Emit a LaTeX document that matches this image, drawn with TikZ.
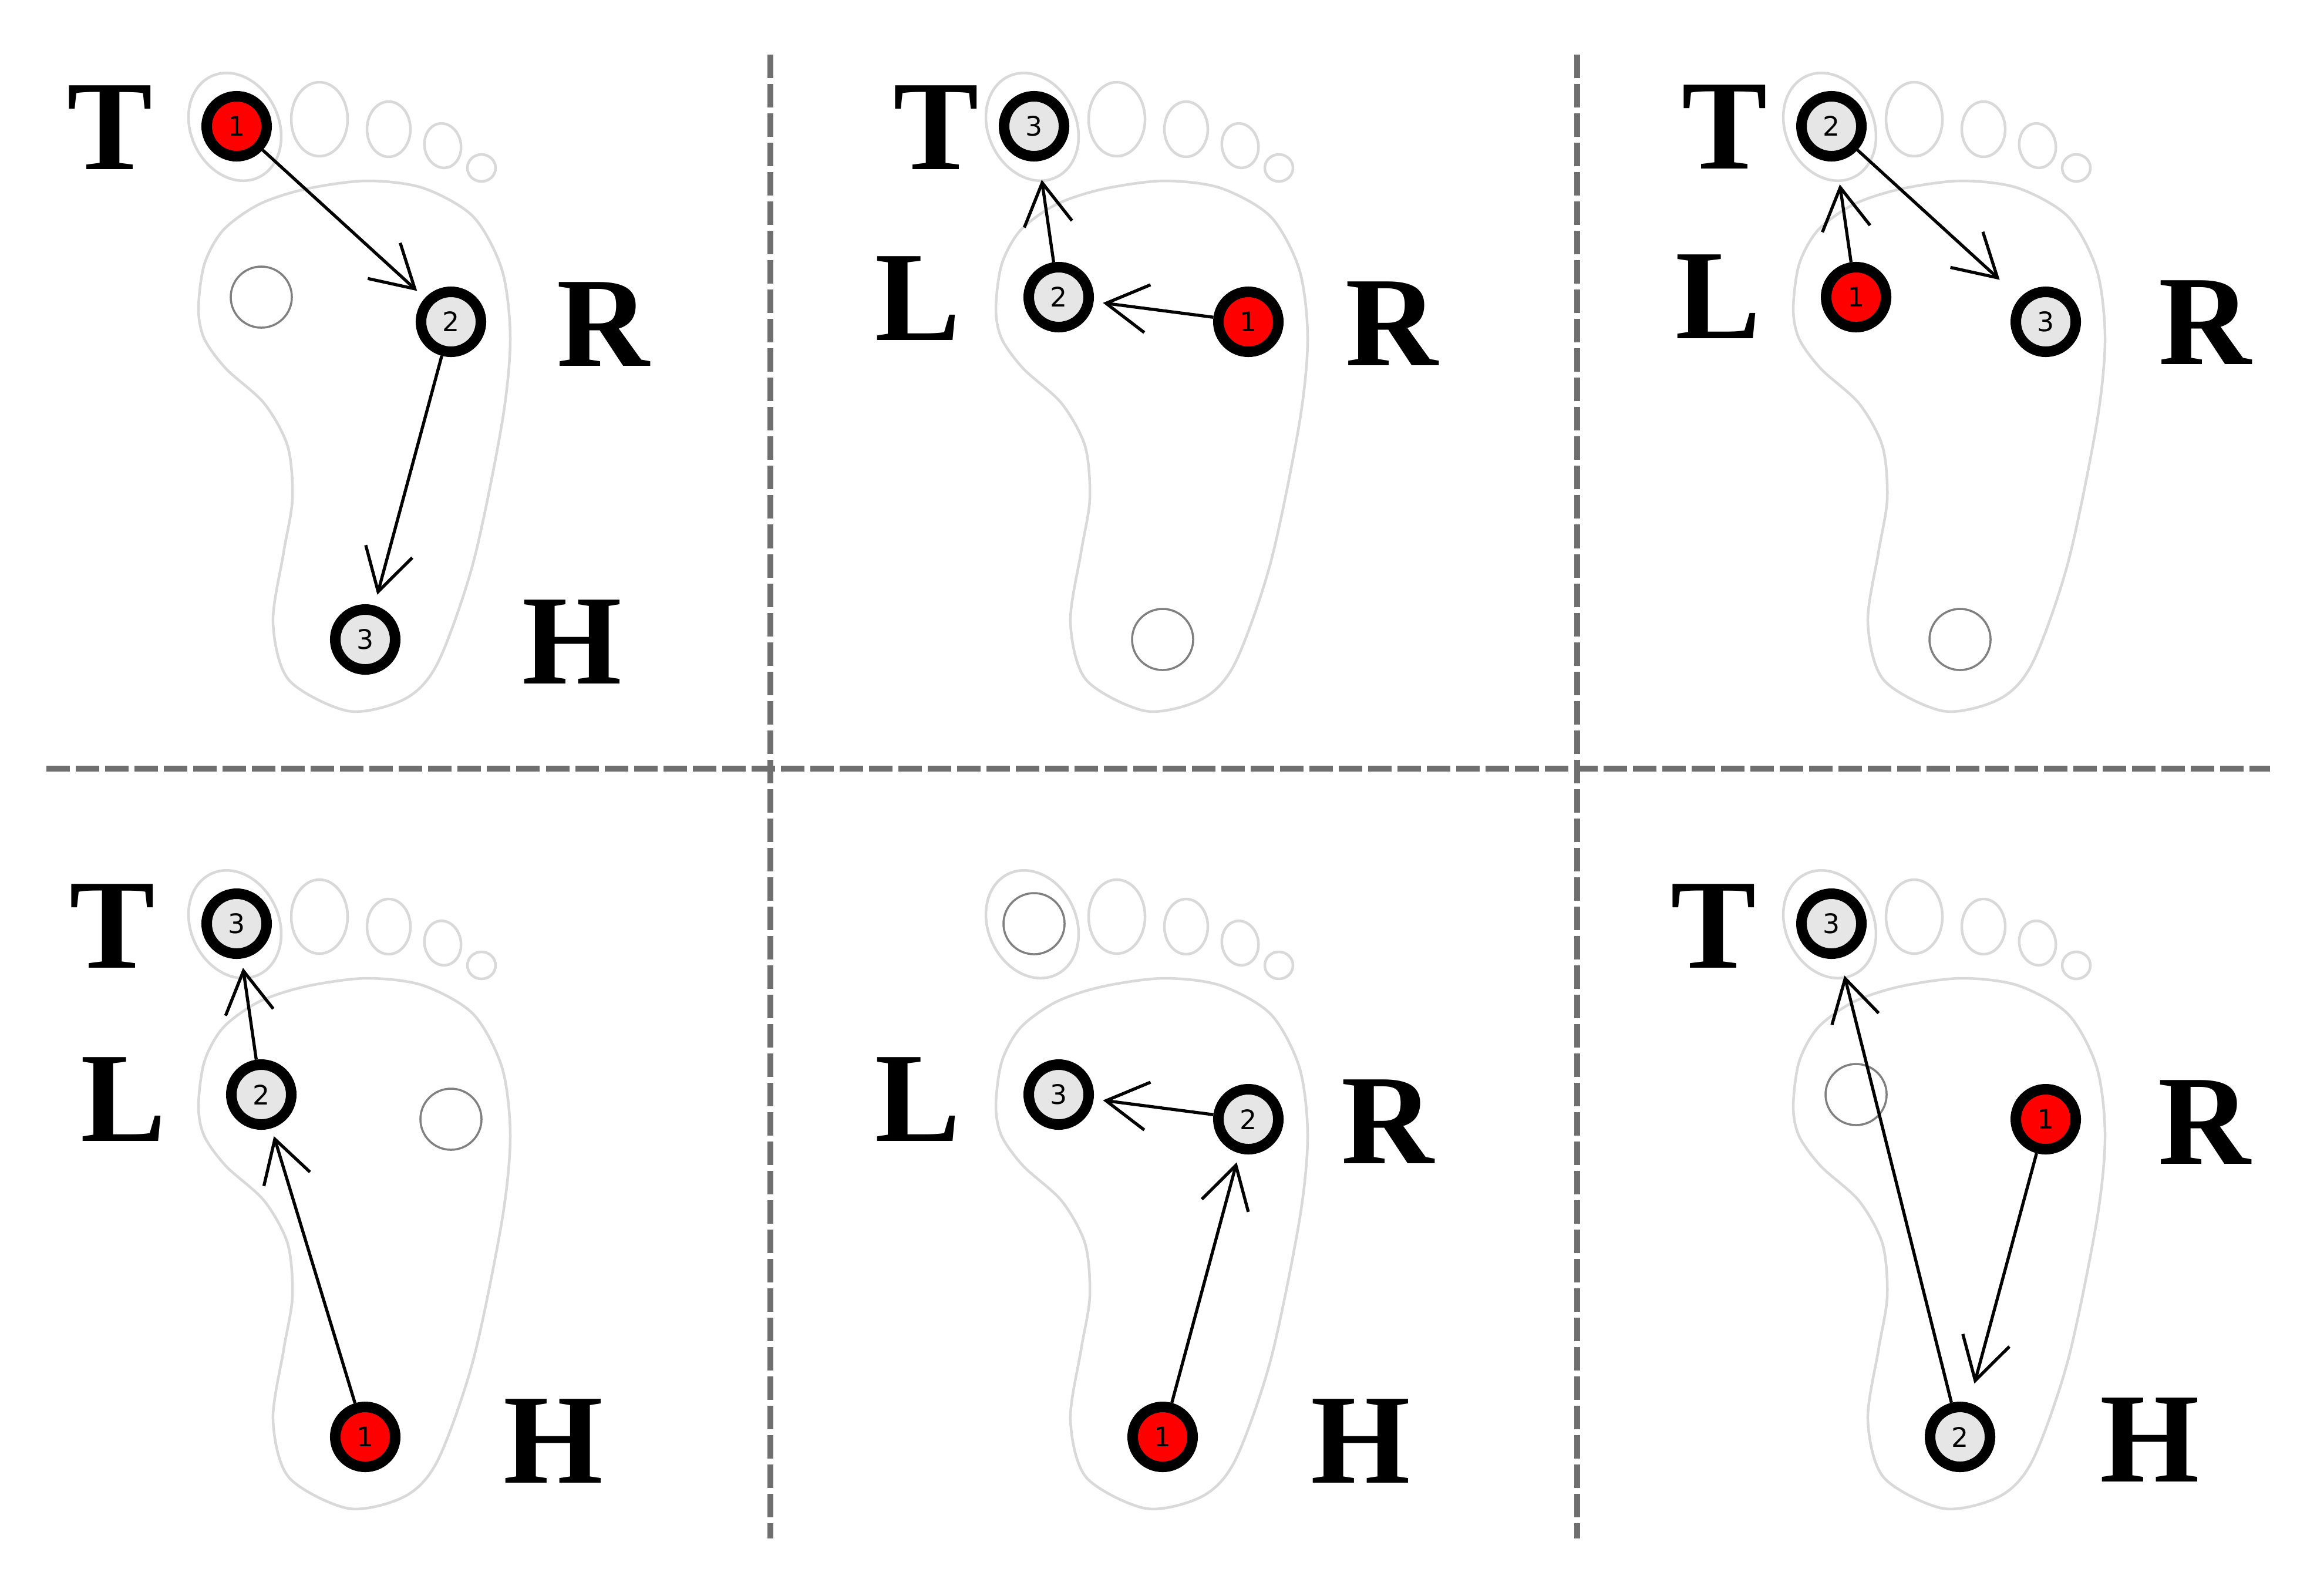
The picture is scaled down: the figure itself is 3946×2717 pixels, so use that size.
\documentclass[tikz,border=0pt]{standalone}
\usepackage{fontspec}
\setmainfont{Liberation Serif}
\newfontfamily\numfont{DejaVu Sans}
\usetikzlibrary{arrows.meta}
\definecolor{spotgray}{HTML}{E6E6E6}
\definecolor{footgray}{HTML}{D9D9D9}
\definecolor{emptygray}{HTML}{808080}
\definecolor{dashgray}{HTML}{6F6F6F}
\begin{document}
\begin{tikzpicture}[x=0.01cm,y=-0.01cm,
  footline/.style={draw=footgray,line width=0.045cm},
  foot/.pic={
    \draw[footline] (400,216) circle [x radius=75,y radius=95,rotate=25];
    \draw[footline] (544,203) circle [x radius=48,y radius=63];
    \draw[footline] (662,220) circle [x radius=37,y radius=47];
    \draw[footline] (754,248) circle [x radius=31,y radius=38,rotate=10];
    \draw[footline] (820,286) circle [x radius=24,y radius=23];
    \draw[footline] plot[smooth cycle] coordinates {(623,308) (520,322) (441,348) (380,392) (348,450) (338,526) (348,577) (385,628) (450,687) (490,760) (498,850) (483,941) (465,1060) (492,1158) (594,1211) (690,1190) (746,1128) (806,958) (855,720) (869,577) (855,460) (806,369) (720,320)};
  },
  spot/.style={circle,draw=black,line width=0.18cm,minimum size=1.02cm,inner sep=0pt,fill=spotgray,font=\numfont\fontsize{13}{13}\selectfont},
  startspot/.style={spot,fill=red},
  emptyspot/.style={circle,draw=emptygray,line width=0.035cm,minimum size=1.04cm,inner sep=0pt},
  letter/.style={anchor=base,inner sep=0pt,font=\bfseries\fontsize{62}{62}\selectfont},
  movearrow/.style={-{Straight Barb[length=0.71cm,width=0.82cm]},line width=1.5pt},
  divider/.style={draw=dashgray,line width=0.1cm,dash pattern=on 0.4cm off 0.1cm}]
\useasboundingbox (0,0) rectangle (3946,2717);
% dividers
\draw[divider] (79,1309) -- (3866,1309);
\draw[divider] (1312,93) -- (1312,2620);
\draw[divider] (2686,93) -- (2686,2620);
% feet
\pic at (0,0) {foot};
\pic at (1358,0) {foot};
\pic at (2716,0) {foot};
\pic at (0,1358) {foot};
\pic at (1358,1358) {foot};
\pic at (2716,1358) {foot};
% panel 1
\node[startspot] (p1T) at (403,215) {1};
\node[emptyspot] (p1L) at (445,506) {};
\node[spot] (p1R) at (768,548) {2};
\node[spot] (p1H) at (622,1089) {3};
\node[letter] (p1t) at (187,288) {T};
\node[letter] (p1r) at (1027,623) {R};
\node[letter] (p1h) at (974,1164) {H};
\draw[movearrow,shorten >=0.18cm] (p1T) -- (p1R);
\draw[movearrow,shorten >=0.19cm] (p1R) -- (p1H);
% panel 2
\node[spot] (p2T) at (1761,215) {3};
\node[spot] (p2L) at (1803,506) {2};
\node[startspot] (p2R) at (2126,548) {1};
\node[emptyspot] (p2H) at (1980,1089) {};
\node[letter] (p2t) at (1594,288) {T};
\node[letter] (p2l) at (1563,579) {L};
\node[letter] (p2r) at (2370,622) {R};
\draw[movearrow,shorten >=0.16cm] (p2R) -- (p2L);
\draw[movearrow,shorten >=0.32cm] (p2L) -- (p2T);
% panel 3
\node[spot] (p3T) at (3119,215) {2};
\node[startspot] (p3L) at (3161,506) {1};
\node[spot] (p3R) at (3484,548) {3};
\node[emptyspot] (p3H) at (3338,1089) {};
\node[letter] (p3t) at (2937,287) {T};
\node[letter] (p3l) at (2926,576) {L};
\node[letter] (p3r) at (3755,620) {R};
\draw[movearrow,shorten >=0.40cm] (p3L) -- (p3T);
\draw[movearrow,shorten >=0.46cm] (p3T) -- (p3R);
% panel 4
\node[spot] (p4T) at (403,1573) {3};
\node[spot] (p4L) at (445,1864) {2};
\node[emptyspot] (p4R) at (768,1906) {};
\node[startspot] (p4H) at (622,2447) {1};
\node[letter] (p4t) at (191,1648) {T};
\node[letter] (p4l) at (210,1943) {L};
\node[letter] (p4h) at (942,2525) {H};
\draw[movearrow,shorten >=0.14cm] (p4H) -- (p4L);
\draw[movearrow,shorten >=0.16cm] (p4L) -- (p4T);
% panel 5
\node[emptyspot] (p5T) at (1761,1573) {};
\node[spot] (p5L) at (1803,1864) {3};
\node[spot] (p5R) at (2126,1906) {2};
\node[startspot] (p5H) at (1980,2447) {1};
\node[letter] (p5l) at (1563,1943) {L};
\node[letter] (p5r) at (2363,1981) {R};
\node[letter] (p5h) at (2317,2525) {H};
\draw[movearrow,shorten >=0.16cm] (p5H) -- (p5R);
\draw[movearrow,shorten >=0.16cm] (p5R) -- (p5L);
% panel 6
\node[spot] (p6T) at (3119,1573) {3};
\node[emptyspot] (p6L) at (3161,1864) {};
\node[startspot] (p6R) at (3484,1906) {1};
\node[spot] (p6H) at (3338,2447) {2};
\node[letter] (p6t) at (2918,1648) {T};
\node[letter] (p6r) at (3754,1982) {R};
\node[letter] (p6h) at (3661,2523) {H};
\draw[movearrow,shorten >=0.34cm] (p6R) -- (p6H);
\draw[movearrow,shorten >=0.31cm] (p6H) -- (p6T);
\end{tikzpicture}
\end{document}
